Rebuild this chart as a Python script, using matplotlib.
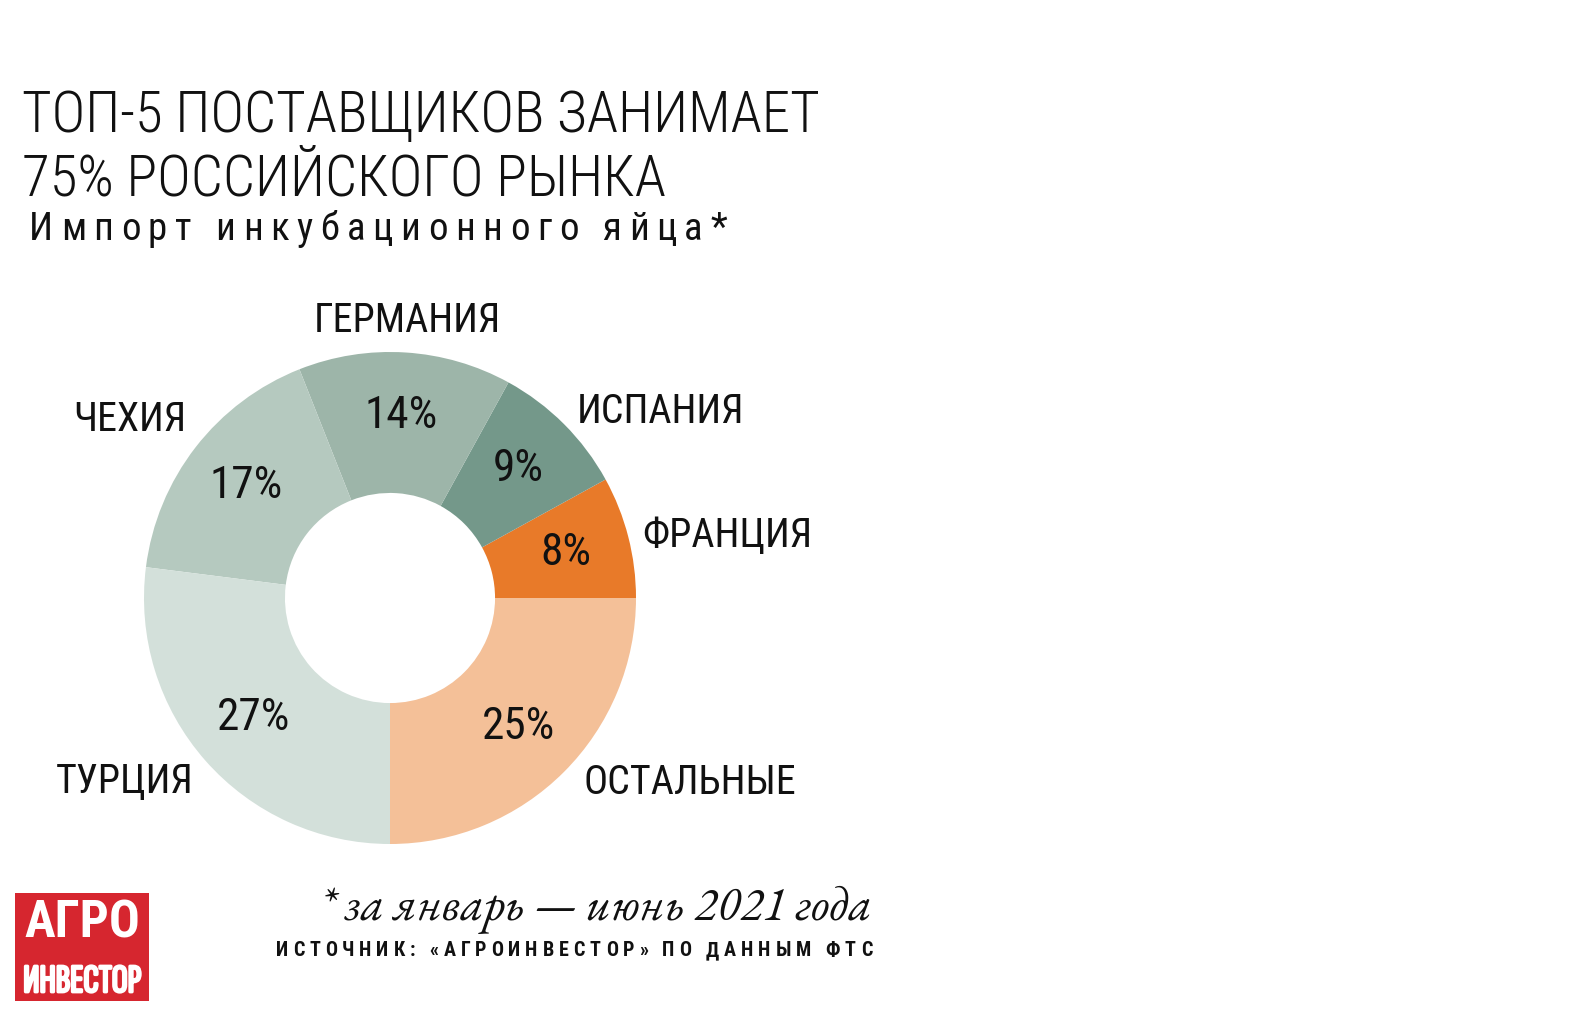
import matplotlib
matplotlib.use('Agg')
import matplotlib.pyplot as plt
import matplotlib.patheffects as pe
from matplotlib.patches import Rectangle

W, H = 1594, 1016
COND = 'Roboto Condensed'
XCOND = 'Sofia Sans Extra Condensed'
SERIF = 'EB Garamond'

# данные: доли импорта, против часовой стрелки от 3 часов
countries = ['ФРАНЦИЯ', 'ИСПАНИЯ', 'ГЕРМАНИЯ', 'ЧЕХИЯ', 'ТУРЦИЯ', 'ОСТАЛЬНЫЕ']
shares = [8, 9, 14, 17, 27, 25]
colors = ['#E87A29', '#74988A', '#9DB5A9', '#B5C9BF', '#D3E0DA', '#F4C098']
# где стоят подписи стран (в радиусах кольца)
label_pos = [(1.37, 0.256), (1.10, 0.76), (0.069, 1.13),
             (-1.057, 0.724), (-1.077, -0.744), (1.22, -0.752)]

title_lines = ['ТОП-5 ПОСТАВЩИКОВ ЗАНИМАЕТ', '75% РОССИЙСКОГО РЫНКА']
subtitle = 'Импорт инкубационного яйца*'
footnote = '* за январь — июнь 2021 года'
source = 'ИСТОЧНИК: «АГРОИНВЕСТОР» ПО ДАННЫМ ФТС'

fig = plt.figure(figsize=(W / 100, H / 100), dpi=100)
fig.patch.set_facecolor('white')
renderer = fig.canvas.get_renderer()


def fx(x):
    return x / W


def fy(y):
    return 1 - y / H


def fit(t, width):
    # подогнать кегль под ширину в пикселях
    w = t.get_window_extent(renderer).width
    t.set_fontsize(t.get_fontsize() * width / w)
    return t.get_fontsize()


def spaced(x0, x1, y, s, **kw):
    # текст с разрядкой: буквы по одной, чтобы строка заняла x0..x1
    t = fig.text(0, 0, 'H', **kw)
    wH = t.get_window_extent(renderer).width

    def adv(p):
        t.set_text(p + 'H')
        return t.get_window_extent(renderer).width - wH

    advs = [adv(s[:i]) for i in range(len(s))]
    t.set_text(s[-1])
    w_last = t.get_window_extent(renderer).width
    t.remove()
    track = (x1 - x0 - advs[-1] - w_last) / (len(s) - 1)
    for i, ch in enumerate(s):
        if ch == ' ':
            continue
        fig.text(fx(x0 + advs[i] + i * track), fy(y), ch,
                 ha='left', va='baseline', **kw)


# кольцо
ax = fig.add_axes([fx(144), fy(844), 492 / W, 492 / H])
wedges, texts, autotexts = ax.pie(
    shares, colors=colors, startangle=0, counterclock=True, radius=1,
    wedgeprops=dict(width=0.573, linewidth=0),
    autopct='%.0f%%', pctdistance=0.74,
    textprops=dict(fontsize=30, family=COND, color='#111111'))
ax.set_xlim(-1, 1)
ax.set_ylim(-1, 1)
ax.set_aspect('equal')
ax.axis('off')

labels = []
for name, (lx, ly) in zip(countries, label_pos):
    labels.append(ax.text(lx, ly, name, ha='center', va='center', fontsize=30,
                          family=COND, color='#111111', clip_on=False))
lab_size = fit(labels[-1], 212)
for t in labels:
    t.set_fontsize(lab_size)
for t in autotexts:
    t.set_fontsize(lab_size * 1.13)

# заголовок
t1 = fig.text(fx(22), fy(132), title_lines[0], fontsize=44, family=COND,
              weight='light', va='baseline', color='#111111')
title_size = fit(t1, 797)
fig.text(fx(22), fy(196), title_lines[1], fontsize=title_size, family=COND,
         weight='light', va='baseline', color='#111111')
spaced(29, 727, 240, subtitle, fontsize=28, family=COND, color='#111111')

# сноска и источник
t = fig.text(fx(872), fy(920), footnote, ha='right', va='baseline',
             family=SERIF, style='italic', fontsize=30, color='#111111')
fit(t, 552)
spaced(276, 872, 956, source, fontsize=14.5, family=COND, weight='bold',
       color='#111111')

# логотип
fig.add_artist(Rectangle((fx(15), fy(1001)), 134 / W, 108 / H,
                         transform=fig.transFigure, color='#D6262F', lw=0))
t = fig.text(fx(82), fy(938), 'АГРО', ha='center', va='baseline', color='white',
             family=COND, weight='bold', fontsize=32)
fit(t, 116)
t = fig.text(fx(82), fy(992), 'ИНВЕСТОР', ha='center', va='baseline', color='white',
             family=XCOND, weight='bold', fontsize=30,
             path_effects=[pe.withStroke(linewidth=2, foreground='white')])
fit(t, 118)

fig.savefig('out.png', dpi=100, facecolor='white')
